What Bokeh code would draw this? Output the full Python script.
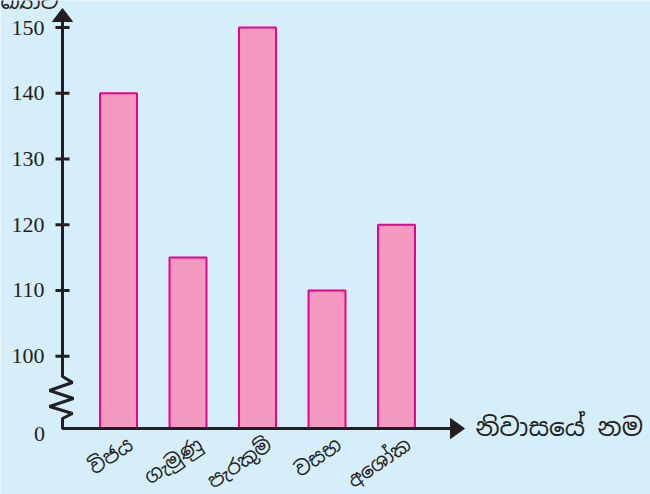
from bokeh.plotting import figure
from bokeh.models import Range1d, ColumnDataSource
from bokeh.core.properties import value
from bokeh.embed import file_html
from bokeh.resources import INLINE

# Houses and number of students in each
houses = ["විජය", "ගැමුණු", "පැරකුම්", "වසභ", "අශෝක"]
students = [140, 115, 150, 110, 120]
y_ticks = [100, 110, 120, 130, 140, 150]
y_tick_labels = ["100", "110", "120", "130", "140", "150"]
x_title = "නිවාසයේ නම"
y_title = "සිසුන් සංඛ්‍යාව"

BASE = 89.0          # where the broken axis places zero
BG = "#d6edfa"
INK = "#231f20"
SIN_FONT = value("Noto Sans Sinhala")
NUM_FONT = value("'Liberation Serif', 'Times New Roman', serif")

p = figure(width=650, height=494, output_backend="svg", toolbar_location=None,
           x_range=Range1d(-1.698, 7.655), y_range=Range1d(78.97, 154.11),
           min_border=0, background_fill_color=BG, border_fill_color=BG,
           outline_line_color=None)
p.axis.visible = False
p.grid.visible = False

idx = list(range(len(houses)))
src = ColumnDataSource(dict(
    left=[i - 0.266 for i in idx], right=[i + 0.266 for i in idx],
    top=students, bottom=[BASE] * len(idx), x=idx, name=houses,
    lx=[i + 0.07 for i in idx], ly=[BASE - 0.45] * len(idx)))

p.quad(left="left", right="right", top="top", bottom="bottom", source=src,
       fill_color="#f49ac1", line_color="#ec008c", line_width=2)

# axes: vertical with a zigzag break, then horizontal
ax_x = -0.806
dx = 1 / 69.5      # one pixel in x units
dy = 1 / 6.575     # one pixel in y units
zig = [(0, 376), (10, 382), (-13, 390), (11, 398), (-13, 406), (10, 413), (0, 418), (0, 428)]
xs = [ax_x, ax_x] + [ax_x + a * dx for a, _ in zig] + [(455 - 118) * dx]
ys = [154.11 - 20 * dy, 150 - (376 - 27) * dy] + [150 - (b - 27) * dy for _, b in zig] + [BASE]
p.line(xs, ys, line_color=INK, line_width=3)

# arrow heads
p.patch([ax_x, ax_x - 10 * dx, ax_x + 10 * dx],
        [150 + 19 * dy, 150 + 6 * dy, 150 + 6 * dy], color=INK)
xe = (464 - 118) * dx
p.patch([xe, xe - 14 * dx, xe - 14 * dx], [BASE, BASE + 10 * dy, BASE - 10 * dy], color=INK)

# y ticks and labels
p.segment(x0=[ax_x - 7 * dx] * len(y_ticks), x1=[ax_x + 7 * dx] * len(y_ticks),
          y0=y_ticks, y1=y_ticks, line_color=INK, line_width=3)
p.text(x=[ax_x - 18 * dx] * len(y_ticks), y=y_ticks, text=y_tick_labels,
       text_font=NUM_FONT, text_font_size="22px", text_color=INK,
       text_align="right", text_baseline="middle")
p.text(x=[ax_x - 23 * dx], y=[BASE - 0.8], text=["0"], text_font=NUM_FONT,
       text_font_size="22px", text_color=INK, text_align="center", text_baseline="middle")

# rotated house names
p.text(x="lx", y="ly", text="name", source=src, angle=0.6,
       text_font=SIN_FONT, text_font_size="20px", text_color=INK,
       text_align="right", text_baseline="top")

# axis titles
p.text(x=[(475 - 118) * dx], y=[BASE + 0.3], text=[x_title], text_font=SIN_FONT,
       text_font_size="25px", text_color=INK, text_align="left", text_baseline="middle")
p.text(x=[(58 - 118) * dx], y=[150 + 13 * dy], text=[y_title], text_font=SIN_FONT,
       text_font_size="22px", text_color=INK, text_align="right", text_baseline="bottom")

open("out.html", "w").write(file_html(p, INLINE))
